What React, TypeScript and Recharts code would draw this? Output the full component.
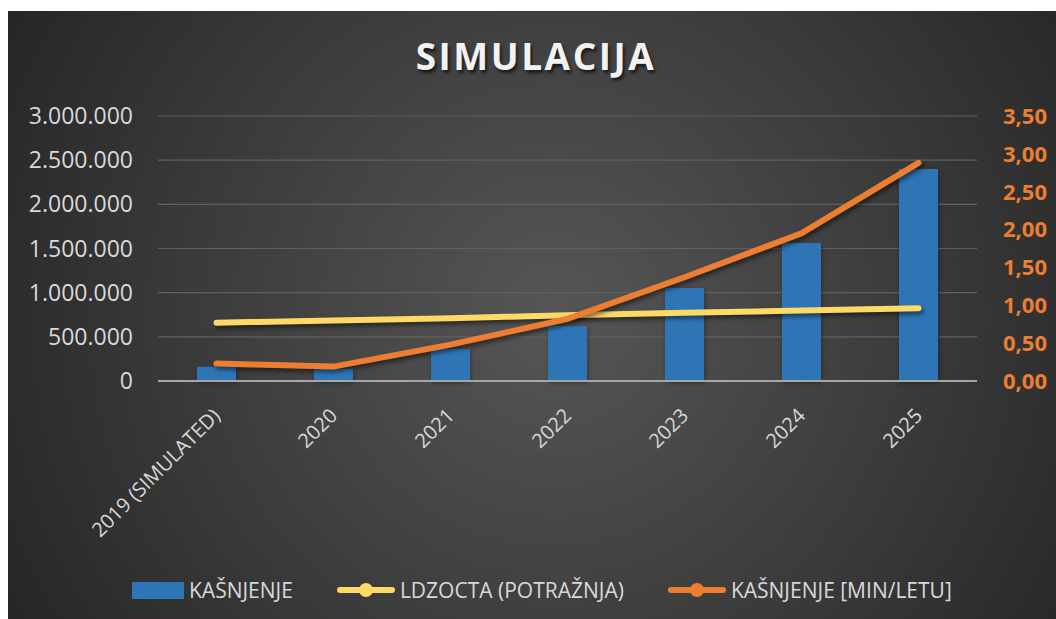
import React from "react"
import { ComposedChart, Bar, Line, XAxis, YAxis, CartesianGrid } from "recharts"

const years = ["2019 (SIMULATED)", "2020", "2021", "2022", "2023", "2024", "2025"]
const kasnjenje = [160000, 140000, 362000, 623000, 1053000, 1563000, 2400000]
const ldzocta = [0.77, 0.8, 0.83, 0.87, 0.9, 0.93, 0.96]
const kasnjenjeMin = [0.23, 0.19, 0.48, 0.82, 1.37, 1.95, 2.88]

const leftTicks = [0, 500000, 1000000, 1500000, 2000000, 2500000, 3000000]
const rightTicks = [0, 0.5, 1, 1.5, 2, 2.5, 3, 3.5]

const data = years.map((year, i) => ({
  year,
  kasnjenje: kasnjenje[i],
  ldzocta: ldzocta[i],
  kasnjenjeMin: kasnjenjeMin[i],
}))

const FONT = "'Open Sans', 'Noto Sans', sans-serif"
const TEXT = "#d9d9d9"
const BLUE = "#2e75b6"
const YELLOW = "#ffd966"
const ORANGE = "#ed7d31"

const legendItems = [
  { name: "KAŠNJENJE", color: BLUE, type: "rect" },
  { name: "LDZOCTA (POTRAŽNJA)", color: YELLOW, type: "line" },
  { name: "KAŠNJENJE [MIN/LETU]", color: ORANGE, type: "line" },
]

const fmtLeft = (v: number) => String(v).replace(/\B(?=(\d{3})+(?!\d))/g, ".")
const fmtRight = (v: number) => v.toFixed(2).replace(".", ",")

function XTick(props: any) {
  const { x, y, payload } = props
  return (
    <g transform={`translate(${x + 5},${y + 28})`}>
      <text transform="rotate(-45)" textAnchor="end" fill={TEXT} fontSize={20} fontFamily={FONT}>
        {payload.value}
      </text>
    </g>
  )
}

function LegendBox() {
  return (
    <div
      style={{
        position: "absolute",
        left: 124,
        top: 565,
        display: "flex",
        alignItems: "center",
        gap: 44,
        fontFamily: FONT,
        fontSize: 21,
        color: TEXT,
      }}
    >
      {legendItems.map((item) => (
        <div key={item.name} style={{ display: "flex", alignItems: "center", gap: 5 }}>
          {item.type === "rect" ? (
            <div style={{ width: 52, height: 17, background: item.color }} />
          ) : (
            <svg width={58} height={16}>
              <line x1={3} y1={8} x2={55} y2={8} stroke={item.color} strokeWidth={6} strokeLinecap="round" />
              <circle cx={29} cy={8} r={7} fill={item.color} />
            </svg>
          )}
          <span>{item.name}</span>
        </div>
      ))}
    </div>
  )
}

export default function App() {
  return (
    <div
      style={{
        position: "absolute",
        left: 8,
        top: 11,
        width: 1048,
        height: 608,
        overflow: "hidden",
        background: "radial-gradient(circle farthest-corner at 52% 50%, #565656 0%, #3c3c3c 55%, #262626 100%)",
      }}
    >
      <div
        style={{
          position: "absolute",
          left: 328,
          top: 19,
          width: 400,
          textAlign: "center",
          fontFamily: FONT,
          fontWeight: 700,
          fontSize: 37,
          letterSpacing: 2.5,
          color: "#f2f2f2",
          textShadow: "2px 3px 3px rgba(0,0,0,0.6)",
        }}
      >
        SIMULACIJA
      </div>
      <ComposedChart width={1048} height={608} data={data} margin={{ top: 105, right: 0, bottom: 0, left: 0 }}>
        <CartesianGrid yAxisId="left" vertical={false} stroke="#606060" strokeWidth={1.2} />
        <XAxis
          dataKey="year"
          tick={<XTick />}
          interval={0}
          tickLine={false}
          axisLine={{ stroke: "#a6a6a6", strokeWidth: 2 }}
          height={238}
        />
        <YAxis
          yAxisId="left"
          width={150}
          domain={[0, 3000000]}
          ticks={leftTicks}
          tickFormatter={fmtLeft}
          axisLine={false}
          tickLine={false}
          tickMargin={19}
          tick={{ fill: TEXT, fontSize: 23, fontFamily: FONT }}
        />
        <YAxis
          yAxisId="right"
          orientation="right"
          width={79}
          domain={[0, 3.5]}
          ticks={rightTicks}
          tickFormatter={fmtRight}
          axisLine={false}
          tickLine={false}
          tickMargin={20}
          tick={{ fill: ORANGE, fontSize: 22, fontWeight: 700, fontFamily: FONT }}
        />
        <Bar
          yAxisId="left"
          dataKey="kasnjenje"
          name="KAŠNJENJE"
          fill={BLUE}
          barSize={39}
          isAnimationActive={false}
          style={{ filter: "drop-shadow(1px 2px 2px rgba(0,0,0,0.35))" }}
        />
        <Line
          yAxisId="right"
          dataKey="ldzocta"
          name="LDZOCTA (POTRAŽNJA)"
          type="linear"
          stroke={YELLOW}
          strokeWidth={6}
          strokeLinecap="round"
          dot={false}
          isAnimationActive={false}
          style={{ filter: "drop-shadow(2px 3px 2px rgba(0,0,0,0.5))" }}
        />
        <Line
          yAxisId="right"
          dataKey="kasnjenjeMin"
          name="KAŠNJENJE [MIN/LETU]"
          type="linear"
          stroke={ORANGE}
          strokeWidth={6}
          strokeLinecap="round"
          dot={false}
          isAnimationActive={false}
          style={{ filter: "drop-shadow(2px 3px 2px rgba(0,0,0,0.5))" }}
        />
      </ComposedChart>
      <LegendBox />
    </div>
  )
}
